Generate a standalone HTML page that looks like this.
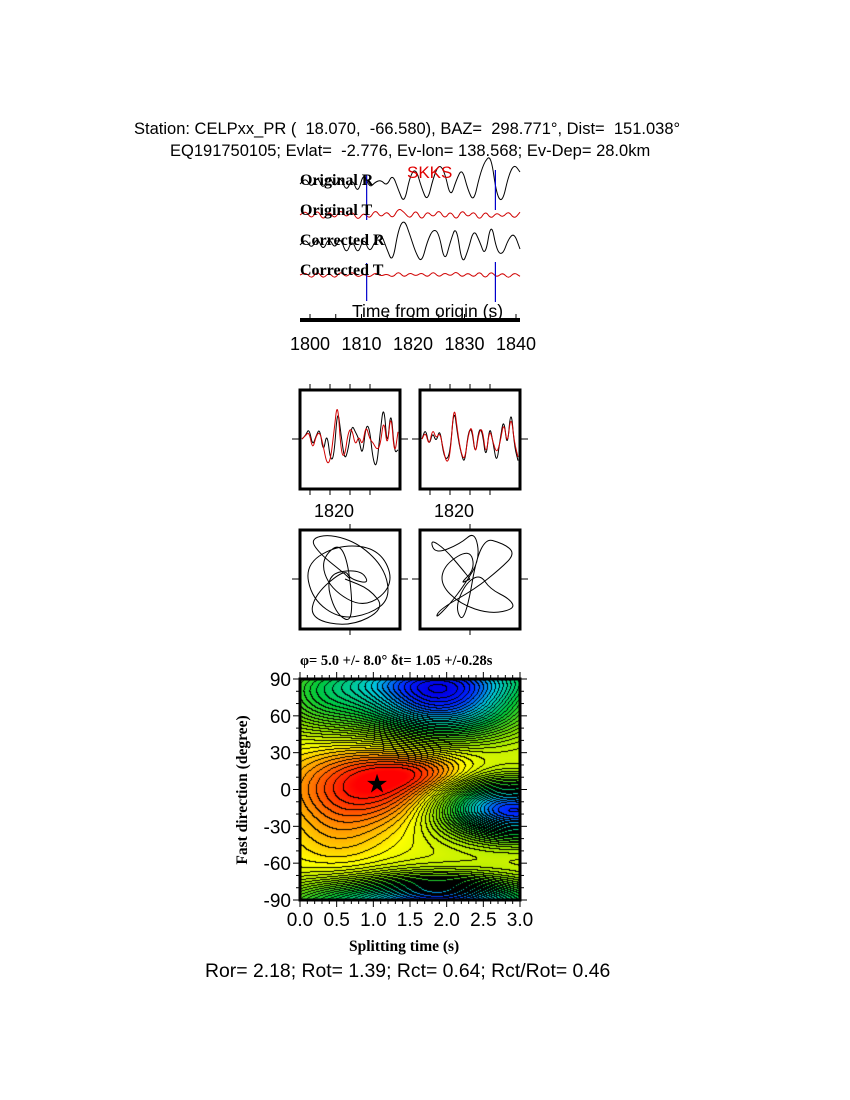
<!DOCTYPE html>
<html><head><meta charset="utf-8"><style>
body{margin:0;background:#fff;}
#root{position:relative;width:850px;height:1100px;overflow:hidden;font-family:"Liberation Sans",sans-serif;}
.t{position:absolute;white-space:nowrap;color:#000;}
.b{font-family:"Liberation Serif",serif;font-weight:bold;}
</style></head><body>
<div id="root">
<div class="t" style="left:134px;top:120px;font-size:16.5px;">Station: CELPxx_PR ( &nbsp;18.070, &nbsp;-66.580), BAZ= &nbsp;298.771°, Dist= &nbsp;151.038°</div>
<div class="t" style="left:170px;top:142px;font-size:16.5px;">EQ191750105; Evlat= &nbsp;-2.776, Ev-lon= 138.568; Ev-Dep= 28.0km</div>
<svg id="top" width="850" height="1100" style="position:absolute;left:0;top:0"></svg>
<div class="t" style="left:407px;top:163px;font-size:17px;color:#e00000;">SKKS</div>
<div class="t b" style="left:300px;top:172px;font-size:16px;">Original R</div>
<div class="t b" style="left:300px;top:202px;font-size:16px;">Original T</div>
<div class="t b" style="left:300px;top:232px;font-size:16px;">Corrected R</div>
<div class="t b" style="left:300px;top:262px;font-size:16px;">Corrected T</div>
<div class="t" style="left:352px;top:301px;font-size:17.5px;">Time from origin (s)</div>
<div class="t" style="left:314px;top:501px;font-size:18px;">1820</div>
<div class="t" style="left:434px;top:501px;font-size:18px;">1820</div>
<div class="t b" style="left:300px;top:653px;font-size:14.5px;">φ= 5.0 +/- 8.0° δt= 1.05 +/-0.28s</div>
<canvas id="cv" width="220" height="221" style="position:absolute;left:300px;top:679px;"></canvas>
<svg id="ov" width="850" height="1100" style="position:absolute;left:0;top:0"></svg>
<div class="t b" style="left:243px;top:790px;font-size:15.5px;transform:translate(-50%,-50%) rotate(-90deg);">Fast direction (degree)</div>
<div class="t b" style="left:349px;top:938px;font-size:15.5px;">Splitting time (s)</div>
<div class="t" style="left:205px;top:960px;font-size:19.4px;">Ror= 2.18; Rot= 1.39; Rct= 0.64; Rct/Rot= 0.46</div>
</div>
<script>
const NS='http://www.w3.org/2000/svg';
let svg=document.getElementById('top');
function mk(tag,a){const e=document.createElementNS(NS,tag);for(const k in a)e.setAttribute(k,a[k]);svg.appendChild(e);return e;}
// ---- data ----
const timeTicks=[1800,1810,1820,1830,1840];
const windowTimes=[1811,1836];
const origR=[0,3,-2,4,-3,5,-2,4,-4,3,-5,6,-2,1,2,-1,5,-3,-10,4,8,-2,-9,3,10,6,-7,2,8,-3,-9,4,12,14,-6,-9,4,10,6];
const origT=[0,3,-3,4,-4,3,-3,4,-2,3,-4,2,-3,4,-2,3,-3,5,2,-3,4,-4,3,-2,4,-3,3,-4,4,-2,3,-4,3,-3,2,-2,3,-3,2];
const corrR=[0,3,-2,4,-3,4,-2,4,-5,3,-5,4,-4,2,6,-2,-9,8,13,5,-4,-9,2,8,6,-9,2,10,-10,-3,8,2,-6,12,-3,-5,3,6,-2];
const corrT=[0,2,-3,3,-3,2,-3,3,-2,3,-2,1,-2,2,-1,1,-2,3,-2,2,-1,2,-2,3,-2,2,-1,3,-2,2,-2,3,-3,3,-2,2,-3,2,-1];
const winBlack1=[0,1,3,-2,1,3,-4,2,-6,-5,9,1,-6,-3,4,2,0,-5,4,3,-6,-8,2,10,-3,9,-4,-3];
const winRed1=[0,1,2,-3,1,2,-2,-7,-6,2,11,-4,-5,2,3,-2,1,-2,4,0,-1,-3,-2,6,-3,8,-5,2];
const winBlack2=[0,3,-2,2,-1,3,-4,-6,-3,9,1,-4,-7,2,3,-5,3,2,-6,4,-1,-7,0,6,-3,9,-2,-6];
const winRed2=[0,2,-2,3,0,2,-3,-7,-4,10,2,-4,-6,1,4,-5,2,3,-5,3,-1,-4,-1,5,-2,7,-1,-5];
const pmLX=[0,-5,-30,-40,-20,10,35,40,20,-10,-38,-45,-10,30,45,15,-20,-30,-5,5,-15,-25,10,20,0,-5,-35,-40,0,35,20,-5];
const pmLY=[0,5,25,40,45,35,10,-20,-35,-40,-20,15,35,30,-5,-30,-10,20,40,-45,-35,5,10,-5,0,10,-15,-40,-48,-30,-10,0];
const pmRX=[0,-8,-25,-40,-35,-10,5,10,-5,-20,-35,-30,5,30,45,35,10,-5,-15,-5,10,20,40,45,20,-10,-30,-25,0,5,-10,0];
const pmRY=[0,10,30,40,25,35,48,20,-5,-25,-40,-30,-10,10,25,35,42,-45,-30,-5,5,-10,-20,-30,-35,-25,-5,15,30,10,-5,0];
const tVals=[0.0,0.5,1.0,1.5,2.0,2.5,3.0];
const phiVals=[90,60,30,0,-30,-60,-90];
const blobT=[1.05,0.5,1.9,3.0,0.25,1.8,2.4,1.7];
const blobP=[5,-35,70,-18,72,-88,-5,14];
const blobA=[-0.27,-0.08,0.6,0.6,0.2,0.32,0.15,-0.09];
const blobST=[0.8,0.5,0.8,0.7,0.5,1.2,0.5,0.5];
const blobSP=[22,25,20,16,18,12,15,10];
const bestT=1.05, bestPhi=5;
// ---- trace axis ----
const tx=t=>310+(t-1800)*5.15;
function smooth(pts){let d='M'+pts[0][0]+','+pts[0][1];for(let i=1;i<pts.length;i++){const p=pts[i-1],q=pts[i];d+='Q'+p[0].toFixed(1)+','+p[1].toFixed(1)+' '+((p[0]+q[0])/2).toFixed(1)+','+((p[1]+q[1])/2).toFixed(1);}const l=pts[pts.length-1];return d+'L'+l[0]+','+l[1];}
function trace(arr,y0,col,sc){const pts=arr.map((v,i)=>[300+i*220/(arr.length-1),y0-v*sc]);
 const p=mk('path',{d:smooth(pts),fill:'none',stroke:col,'stroke-width':1});}
trace(origR,184,'#000',2);trace(origT,215,'#d00000',1.4);trace(corrR,245,'#000',2);trace(corrT,275,'#d00000',1.3);
windowTimes.forEach((t,i)=>{
 const l1=mk('line',{x1:tx(t),x2:tx(t),y1:i?170:175,y2:i?210:220,stroke:'#0000cc','stroke-width':1.2});
 const l2=mk('line',{x1:tx(t),x2:tx(t),y1:i?262:263,y2:i?302:301,stroke:'#0000cc','stroke-width':1.2});
});
const ax=mk('line',{x1:300,x2:520,y1:320,y2:320,stroke:'#000','stroke-width':4});
for(let t=1800;t<=1840;t+=5){const l=mk('line',{x1:tx(t),x2:tx(t),y1:314,y2:320,stroke:'#000','stroke-width':1});}
timeTicks.forEach(t=>{const e=mk('text',{x:tx(t),y:350,'font-size':18,'text-anchor':'middle','font-family':'Liberation Sans'});e.textContent=t;});
// ---- boxes ----
function box(x,y,name){const r=mk('rect',{x:x,y:y,width:100,height:99,fill:'none',stroke:'#000','stroke-width':3});
 [[x+50,y-6,x+50,y],[x+50,y+99,x+50,y+105],[x-8,y+49,x,y+49],[x+100,y+49,x+108,y+49]].forEach(c=>{const l=mk('line',{x1:c[0],y1:c[1],x2:c[2],y2:c[3],stroke:'#000'});});}
box(300,390,'window-panel-original');box(420,390,'window-panel-corrected');box(300,530,'particle-motion-original');box(420,530,'particle-motion-corrected');
[300,420].forEach(x=>{for(let k=1;k<5;k++){const xx=x+k*20-10;const l=mk('line',{x1:xx,x2:xx,y1:384,y2:390,stroke:'#000'});const l2=mk('line',{x1:xx,x2:xx,y1:489,y2:495,stroke:'#000'});}});
function wtrace(arr,x0,col){const pts=arr.map((v,i)=>[x0+2+i*96/(arr.length-1),439-v*3.6]);
 const p=mk('path',{d:smooth(pts),fill:'none',stroke:col,'stroke-width':1});}
wtrace(winBlack1,300,'#000');wtrace(winRed1,300,'#d00000');wtrace(winBlack2,420,'#000');wtrace(winRed2,420,'#d00000');
function pm(X,Y,cx){const pts=X.map((x,i)=>[cx+x,579-Y[i]]);
 const p=mk('path',{d:smooth(pts),fill:'none',stroke:'#000','stroke-width':1});}
pm(pmLX,pmLY,350);pm(pmRX,pmRY,470);
// ---- energy map ----
svg=document.getElementById('ov');
const W=220,H=221;
const sx=t=>300+t/3*W, sy=p=>679+(90-p)/180*H;
function field(t,p){let v=0.28;for(let i=0;i<blobT.length;i++){for(const sh of [-180,0,180]){const dt=(t-blobT[i])/blobST[i],dp=(p-blobP[i]+sh)/blobSP[i];v+=blobA[i]*Math.exp(-0.5*(dt*dt+dp*dp));}}
 return Math.max(0,Math.min(1,v));}
const stops=[[0,255,0,0],[0.12,255,120,0],[0.25,255,255,0],[0.42,130,225,0],[0.6,0,200,60],[0.78,0,200,220],[0.92,0,40,255],[1,0,0,230]];
function cmap(v){for(let i=1;i<stops.length;i++){if(v<=stops[i][0]){const a=stops[i-1],b=stops[i],f=(v-a[0])/(b[0]-a[0]);return [a[1]+f*(b[1]-a[1]),a[2]+f*(b[2]-a[2]),a[3]+f*(b[3]-a[3])];}}return [0,0,230];}
const ctx=document.getElementById('cv').getContext('2d');
const img=ctx.createImageData(W,H);const F=[];
for(let j=0;j<H;j++){F[j]=[];for(let i=0;i<W;i++){F[j][i]=field(i/W*3,90-j/H*180);}}
const step=0.025;
for(let j=0;j<H;j++)for(let i=0;i<W;i++){const v=F[j][i];let c=cmap(v);
 const a=Math.floor(v/step);let line=false;
 if(i<W-1&&Math.floor(F[j][i+1]/step)!==a)line=true;if(j<H-1&&Math.floor(F[j+1][i]/step)!==a)line=true;
 if(line)c=[0,0,0];const k=(j*W+i)*4;img.data[k]=c[0];img.data[k+1]=c[1];img.data[k+2]=c[2];img.data[k+3]=255;}
ctx.putImageData(img,0,0);
const fr=mk('rect',{x:300,y:679,width:220,height:221,fill:'none',stroke:'#000','stroke-width':3});
for(let t=0;t<=3.001;t+=0.1){const x=sx(t),L=(Math.round(t*10)%5===0)?7:4;const l=mk('line',{x1:x,x2:x,y1:900,y2:900+L,stroke:'#000'});const l2=mk('line',{x1:x,x2:x,y1:679-L,y2:679,stroke:'#000'});}
for(let p=-90;p<=90;p+=10){const y=sy(p),L=(p%30===0)?7:4;const l=mk('line',{x1:300-L,x2:300,y1:y,y2:y,stroke:'#000'});const l2=mk('line',{x1:520,x2:520+L,y1:y,y2:y,stroke:'#000'});}
tVals.forEach(t=>{const e=mk('text',{x:sx(t),y:926,'font-size':19,'text-anchor':'middle','font-family':'Liberation Sans'});e.textContent=t.toFixed(1);});
phiVals.forEach(p=>{const e=mk('text',{x:291,y:sy(p)+7,'font-size':19,'text-anchor':'end','font-family':'Liberation Sans'});e.textContent=p;});
const st=mk('text',{x:sx(bestT),y:sy(bestPhi)+9,'font-size':26,'text-anchor':'middle'});st.textContent='★';
</script>
</body></html>
